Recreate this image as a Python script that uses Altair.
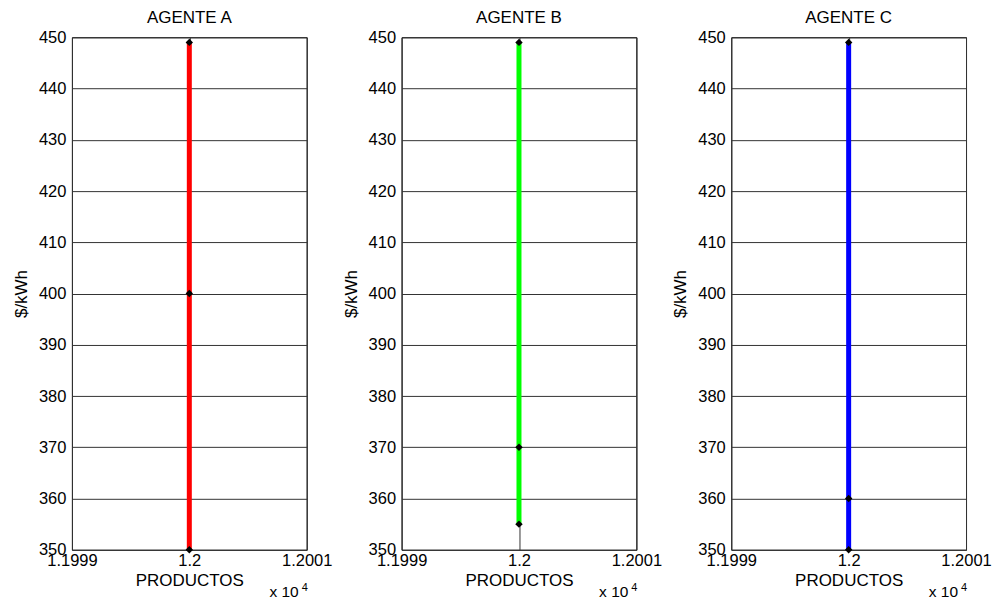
import altair as alt
import pandas as pd

agents = ["AGENTE A", "AGENTE B", "AGENTE C"]
colors = ["#ff0000", "#00ff00", "#0000ff"]
x_pos = 1.2
prices_a = [350, 400, 449]
prices_b = [355, 370, 449]
prices_c = [350, 360, 449]
x_ticks = [1.1999, 1.2, 1.2001]
y_ticks = [350, 360, 370, 380, 390, 400, 410, 420, 430, 440, 450]
exp_base = ["x 10"]
exp_sup = ["4"]

FONT = "Liberation Sans"
W, H = 235, 513


def panel(name, prices, color):
    df = pd.DataFrame({"x": [x_pos] * len(prices), "y": prices})
    base = alt.Chart(df).encode(
        x=alt.X(
            "x:Q",
            scale=alt.Scale(domain=[x_ticks[0], x_ticks[-1]], nice=False, zero=False),
            axis=alt.Axis(values=x_ticks, format="~g", title="PRODUCTOS"),
        ),
        y=alt.Y(
            "y:Q",
            scale=alt.Scale(domain=[y_ticks[0], y_ticks[-1]], nice=False, zero=False),
            axis=alt.Axis(values=y_ticks, title="$/kWh"),
        ),
    )
    line = base.mark_line(color=color, strokeWidth=5, strokeCap="butt")
    pts = base.mark_point(shape="diamond", filled=True, color="black", size=55, opacity=1)
    ttl = alt.Chart(pd.DataFrame({"t": [name]})).mark_text(
        font=FONT, fontSize=17, align="center", baseline="alphabetic", color="black"
    ).encode(x=alt.value(W / 2), y=alt.value(-14), text="t:N")
    t1 = alt.Chart(pd.DataFrame({"t": exp_base})).mark_text(
        font=FONT, fontSize=15.5, align="right", baseline="alphabetic", color="black"
    ).encode(x=alt.value(W - 8), y=alt.value(560), text="t:N")
    t2 = alt.Chart(pd.DataFrame({"t": exp_sup})).mark_text(
        font=FONT, fontSize=11, align="left", baseline="alphabetic", color="black"
    ).encode(x=alt.value(W - 5), y=alt.value(554), text="t:N")
    return alt.layer(line, pts, ttl, t1, t2).properties(width=W, height=H)


chart = alt.hconcat(
    panel(agents[0], prices_a, colors[0]),
    panel(agents[1], prices_b, colors[1]),
    panel(agents[2], prices_c, colors[2]),
    spacing=95,
    bounds="flush",
).properties(
    padding={"left": 3, "top": 0, "right": 5, "bottom": 0},
).configure_view(
    stroke="black", strokeWidth=1
).configure_axis(
    grid=True, gridColor="#333333", gridWidth=1, gridOpacity=1,
    domain=False, ticks=False,
    labelFont=FONT, labelFontSize=16.5, labelColor="black",
    titleFont=FONT, titleFontSize=17, titleFontWeight="normal", titleColor="black",
).configure_axisY(
    labelPadding=6, titlePadding=8,
).configure_axisX(
    labelPadding=3, titlePadding=3, labelOverlap=False, labelFlush=False,
)

chart.save("out.html", embed_options={"renderer": "svg", "actions": False})
